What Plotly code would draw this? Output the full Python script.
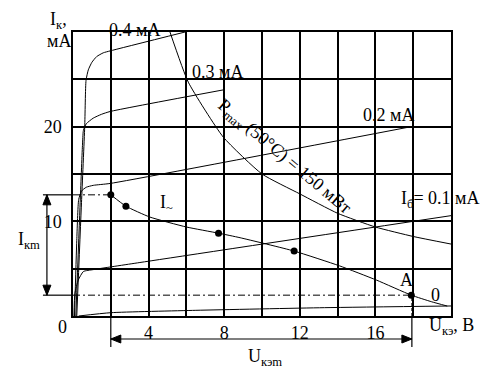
import plotly.graph_objects as go

# ---- data ----
# collector characteristics (U_ce in V, I_c in mA) for each base current
u_04 = [0.2, 0.45, 0.62, 0.69, 0.81, 1.0, 1.25, 1.6, 1.96, 5.93]
i_04 = [0.0, 12.0, 20.0, 24.9, 26.0, 26.8, 27.4, 27.8, 28.0, 30.0]
u_03 = [0.15, 0.38, 0.5, 0.55, 0.7, 1.07, 1.5, 1.96, 7.99]
i_03 = [0.0, 12.0, 18.0, 19.6, 20.3, 20.9, 21.3, 21.6, 23.9]
u_02 = [0.08, 0.2, 0.3, 0.45, 0.7, 1.07, 1.96, 17.9]
i_02 = [0.0, 8.0, 12.3, 13.2, 13.6, 13.8, 14.0, 20.0]
u_01 = [0.05, 0.1, 0.28, 0.55, 1.07, 3.54, 20.0]
i_01 = [0.0, 2.4, 3.8, 4.7, 4.9, 5.65, 10.6]
u_00 = [0.3, 2.0, 6.5, 13.3, 20.0]
i_00 = [0.0, 0.35, 0.6, 0.88, 1.06]

# maximum power dissipation curve
u_p = [5.13, 6.1, 7.95, 10.0, 12.0, 14.0, 16.0, 18.0, 20.0]
i_p = [30.0, 24.7, 18.9, 15.0, 12.9, 10.85, 9.4, 8.4, 7.6]

# dynamic (load) characteristic I~
u_load = [2.0, 2.8, 4.07, 6.0, 7.7, 8.84, 11.7, 14.1, 16.05, 17.9, 18.98, 19.8]
i_load = [12.8, 11.6, 10.45, 9.4, 8.75, 8.27, 6.86, 5.3, 3.8, 2.2, 1.5, 1.05]
u_pts = [2.0, 2.8, 7.7, 11.7, 17.9]
i_pts = [12.8, 11.6, 8.75, 6.86, 2.2]

# amplitude markers
i_top, i_bot = 12.8, 2.2
u_left, u_right = 2.0, 17.93
u_arrow_x = -1.38      # x of the vertical I_km arrow
i_arrow_y = -2.43      # y of the horizontal U_kem arrow
u_ext = -1.59          # left end of horizontal extension lines
i_ext = -3.27          # lower end of vertical extension lines

x_ticks = [4, 8, 12, 16]
y_ticks = [10, 20]

X_RANGE = [0, 20]
Y_RANGE = [0, 30]
W, H = 491, 371
M = dict(l=73, r=40, t=32, b=55)
PLOT_W = W - M["l"] - M["r"]
PLOT_H = H - M["t"] - M["b"]

def xp(x):  # data -> paper via the x axis scale
    return (x - X_RANGE[0]) / (X_RANGE[1] - X_RANGE[0])

def yp(y):
    return (y - Y_RANGE[0]) / (Y_RANGE[1] - Y_RANGE[0])

def px2paper_x(p):
    return p / PLOT_W

def px2paper_y(p):
    return p / PLOT_H

FONT = "Times New Roman, Liberation Serif, serif"
fig = go.Figure()

curve_line = dict(color="black", width=1, shape="spline", smoothing=0.5)
for u, i in [(u_04, i_04), (u_03, i_03), (u_02, i_02), (u_01, i_01), (u_00, i_00)]:
    fig.add_trace(go.Scatter(x=u, y=i, mode="lines", line=curve_line, hoverinfo="skip"))

fig.add_trace(go.Scatter(x=u_p, y=i_p, mode="lines", line=curve_line, hoverinfo="skip"))
fig.add_trace(go.Scatter(x=u_load, y=i_load, mode="lines", line=curve_line, hoverinfo="skip"))
fig.add_trace(go.Scatter(x=u_pts, y=i_pts, mode="markers",
                         marker=dict(color="black", size=7), hoverinfo="skip", cliponaxis=False))

# dash-dot helper lines inside plot
dd = "7px,3px,2px,3px"
fig.add_shape(type="line", x0=0, x1=u_left, y0=i_top, y1=i_top, xref="x", yref="y",
              line=dict(color="black", width=1, dash=dd))
fig.add_shape(type="line", x0=0, x1=u_right, y0=i_bot, y1=i_bot, xref="x", yref="y",
              line=dict(color="black", width=1, dash=dd))
fig.add_shape(type="line", x0=u_right, x1=u_right, y0=0, y1=i_bot, xref="x", yref="y",
              line=dict(color="black", width=1, dash="3px,2px"))

# solid lines outside the plot (paper coordinates derived from the axis scale)
def pline(x0, y0, x1, y1):
    fig.add_shape(type="line", xref="paper", yref="paper",
                  x0=xp(x0), y0=yp(y0), x1=xp(x1), y1=yp(y1),
                  line=dict(color="black", width=1.2))

pline(u_ext, i_top, 0, i_top)
pline(u_ext, i_bot, 0, i_bot)
pline(u_left, 0, u_left, i_ext)
pline(u_right, 0, u_right, i_ext)
pline(u_arrow_x, i_top, u_arrow_x, i_bot)
pline(u_left, i_arrow_y, u_right, i_arrow_y)

# arrowheads as filled triangles (tip at the given point)
HEAD_L, HEAD_W = 10, 4

def head(x, y, direction):
    tx, ty = xp(x), yp(y)
    L_x, L_y = px2paper_x(HEAD_L), px2paper_y(HEAD_L)
    W_x, W_y = px2paper_x(HEAD_W), px2paper_y(HEAD_W)
    if direction == "up":
        pts = [(tx, ty), (tx - W_x, ty - L_y), (tx + W_x, ty - L_y)]
    elif direction == "down":
        pts = [(tx, ty), (tx - W_x, ty + L_y), (tx + W_x, ty + L_y)]
    elif direction == "left":
        pts = [(tx, ty), (tx + L_x, ty - W_y), (tx + L_x, ty + W_y)]
    else:
        pts = [(tx, ty), (tx - L_x, ty - W_y), (tx - L_x, ty + W_y)]
    path = "M {} {} L {} {} L {} {} Z".format(*[c for p in pts for c in p])
    fig.add_shape(type="path", path=path, xref="paper", yref="paper",
                  fillcolor="black", line=dict(color="black", width=1))

head(u_arrow_x, i_top, "up")
head(u_arrow_x, i_bot, "down")
head(u_left, i_arrow_y, "left")
head(u_right, i_arrow_y, "right")

ann = []
def txt(x, y, t, size=18, angle=0, xanchor="center"):
    ann.append(dict(x=xp(x), y=yp(y), xref="paper", yref="paper", text=t, showarrow=False,
                    font=dict(family=FONT, size=size, color="black"),
                    textangle=angle, xanchor=xanchor, yanchor="middle"))

txt(3.23, 30.2, "0.4 мА")
txt(7.62, 25.8, "0.3 мА")
txt(16.67, 21.2, "0.2 мА")
txt(19.4, 12.3, "I<sub>б</sub>= 0.1 мА")
txt(4.97, 11.9, "I<sub>~</sub>")
txt(17.67, 3.8, "A")
txt(19.2, 2.2, "0")
txt(11.16, 16.7, "P<sub>max</sub> (50°C) = 150 мВт", angle=40)
txt(18.75, -1.16, "U<sub>кэ</sub>, B", xanchor="left")
txt(10.16, -4.4, "U<sub>кэm</sub>")
txt(-2.33, 8.0, "I<sub>кm</sub>")
txt(-0.75, 31.2, "I<sub>к</sub>,")
txt(-0.75, 29.0, "мА")
txt(-0.58, -1.16, "0")

fig.update_layout(
    width=W, height=H,
    margin=M,
    paper_bgcolor="white", plot_bgcolor="white",
    showlegend=False,
    annotations=ann,
    font=dict(family=FONT, size=18, color="black"),
)
fig.update_xaxes(range=X_RANGE, tickmode="array", tickvals=x_ticks,
                 ticktext=[str(v) for v in x_ticks],
                 showgrid=True, gridcolor="black", gridwidth=1.5,
                 minor=dict(tickmode="linear", tick0=0, dtick=2, showgrid=True,
                            gridcolor="black", gridwidth=1.5),
                 showline=True, linecolor="black", linewidth=1.5, mirror=True,
                 zeroline=False, ticks="", tickfont=dict(family=FONT, size=18))
fig.update_yaxes(range=Y_RANGE, tickmode="array", tickvals=y_ticks,
                 ticktext=[str(v) for v in y_ticks],
                 showgrid=True, gridcolor="black", gridwidth=1.5,
                 minor=dict(tickmode="linear", tick0=0, dtick=5, showgrid=True,
                            gridcolor="black", gridwidth=1.5),
                 showline=True, linecolor="black", linewidth=1.5, mirror=True,
                 zeroline=False, ticks="", ticklabelstandoff=6,
                 tickfont=dict(family=FONT, size=18))

fig.write_html("out.html", config={"displayModeBar": False},
               post_script="document.body.style.margin='0';document.body.style.overflow='hidden';")
